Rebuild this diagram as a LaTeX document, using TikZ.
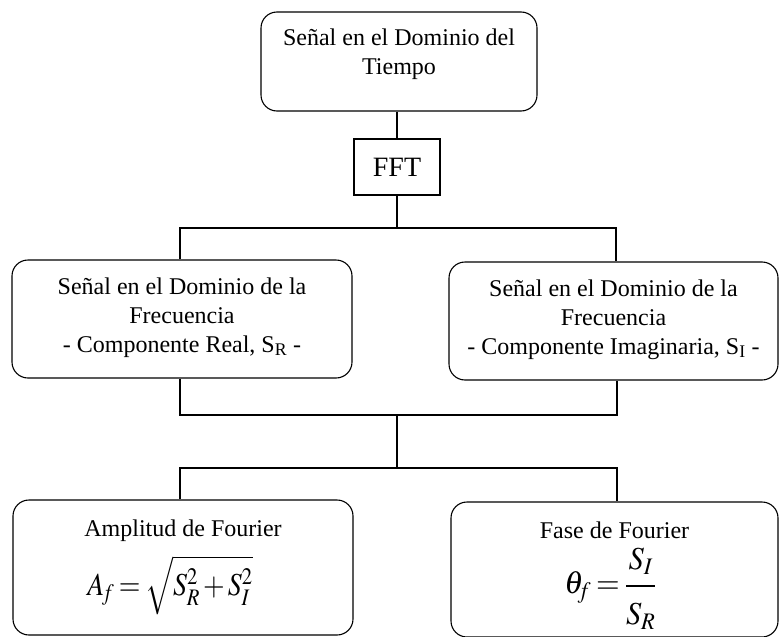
\documentclass[tikz,border=0pt]{standalone}
\usepackage{graphicx}
\usepackage{mathptmx}
\usepackage{fontspec}
\setmainfont{Liberation Serif}
\usetikzlibrary{positioning}
\newcommand{\espmat}{\thickmuskip=3mu\relax\medmuskip=2mu\relax}
\tikzset{
  caja/.style={draw=black, rounded corners=16pt, line width=1.1pt, inner sep=0pt},
  cajafft/.style={draw=black, line width=2pt, inner sep=0pt, minimum width=86pt, minimum height=56pt, font=\fontsize{28}{30}\selectfont},
  texto/.style={align=center, inner sep=0pt, font=\fontsize{24}{29}\selectfont},
  formula/.style={inner sep=0pt, font=\fontsize{32}{38}\selectfont},
  linea/.style={line width=1.8pt}
}

\begin{document}
\begin{tikzpicture}[x=1pt, y=-1pt]
                \useasboundingbox (0,0) rectangle (779,637);
                \clip (0,0) rectangle (779,637);
                \node[caja, minimum width=276pt, minimum height=99pt] (tiempo) at (399,61.5) {};
                \node[cajafft] (fft) at (397,167) {FFT};
                \node[caja, minimum width=340pt, minimum height=118pt] (real) at (182,319) {};
                \node[caja, minimum width=329pt, minimum height=118pt] (imag) at (613.5,321) {};
                \node[caja, minimum width=340pt, minimum height=135pt] (amp) at (183,567.5) {};
                \node[caja, minimum width=327pt, minimum height=135pt] (fase) at (614.5,569.5) {};
                \node[texto, below=17pt of tiempo.north] (tiempoT) {Señal en el Dominio del\\Tiempo};
                \node[texto, below=18pt of real.north] (realT) {Señal en el Dominio de la\\Frecuencia\\- Componente Real, S\textsubscript{R} -};
                \node[texto, below=18pt of imag.north] (imagT) {Señal en el Dominio de la\\Frecuencia\\- Componente Imaginaria, S\textsubscript{I} -};
                \node[texto, below=20pt of amp.north] (ampT) {Amplitud de Fourier};
                \node[texto, below=20pt of fase.north] (faseT) {Fase de Fourier};
                \node[formula, below=14pt of ampT, xshift=-13pt] (ampF) {\scalebox{0.87}[1]{$\espmat A_{\!f}=\sqrt{S_R^2+S_I^2}$}};
                \node[formula, below=9pt of faseT, xshift=-4pt] (faseF) {\scalebox{0.95}[1]{$\espmat\displaystyle\theta_{\!f}=\frac{S_I\rule[-12pt]{0pt}{0pt}}{\rule{0pt}{34pt}S_R}$}};
                \coordinate (b1) at (397,228);
                \coordinate (bi) at (180,228);
                \coordinate (bd) at (616,228);
                \coordinate (ci) at (180,415);
                \coordinate (c1) at (397,415);
                \coordinate (cd) at (617,415);
                \coordinate (di) at (180,468);
                \coordinate (d1) at (397,468);
                \coordinate (dd) at (617,468);
                \draw[linea] (tiempo.south -| fft) -- (fft.north);
                \draw[linea] (fft.south) -- (b1);
                \draw[linea] (real.north -| bi) -- (bi) -- (bd) -- (imag.north -| bd);
                \draw[linea] (real.south -| ci) -- (ci) -- (cd) -- (imag.south -| cd);
                \draw[linea] (c1) -- (d1);
                \draw[linea] (amp.north -| di) -- (di) -- (dd) -- (fase.north -| dd);
            \end{tikzpicture}
\end{document}
